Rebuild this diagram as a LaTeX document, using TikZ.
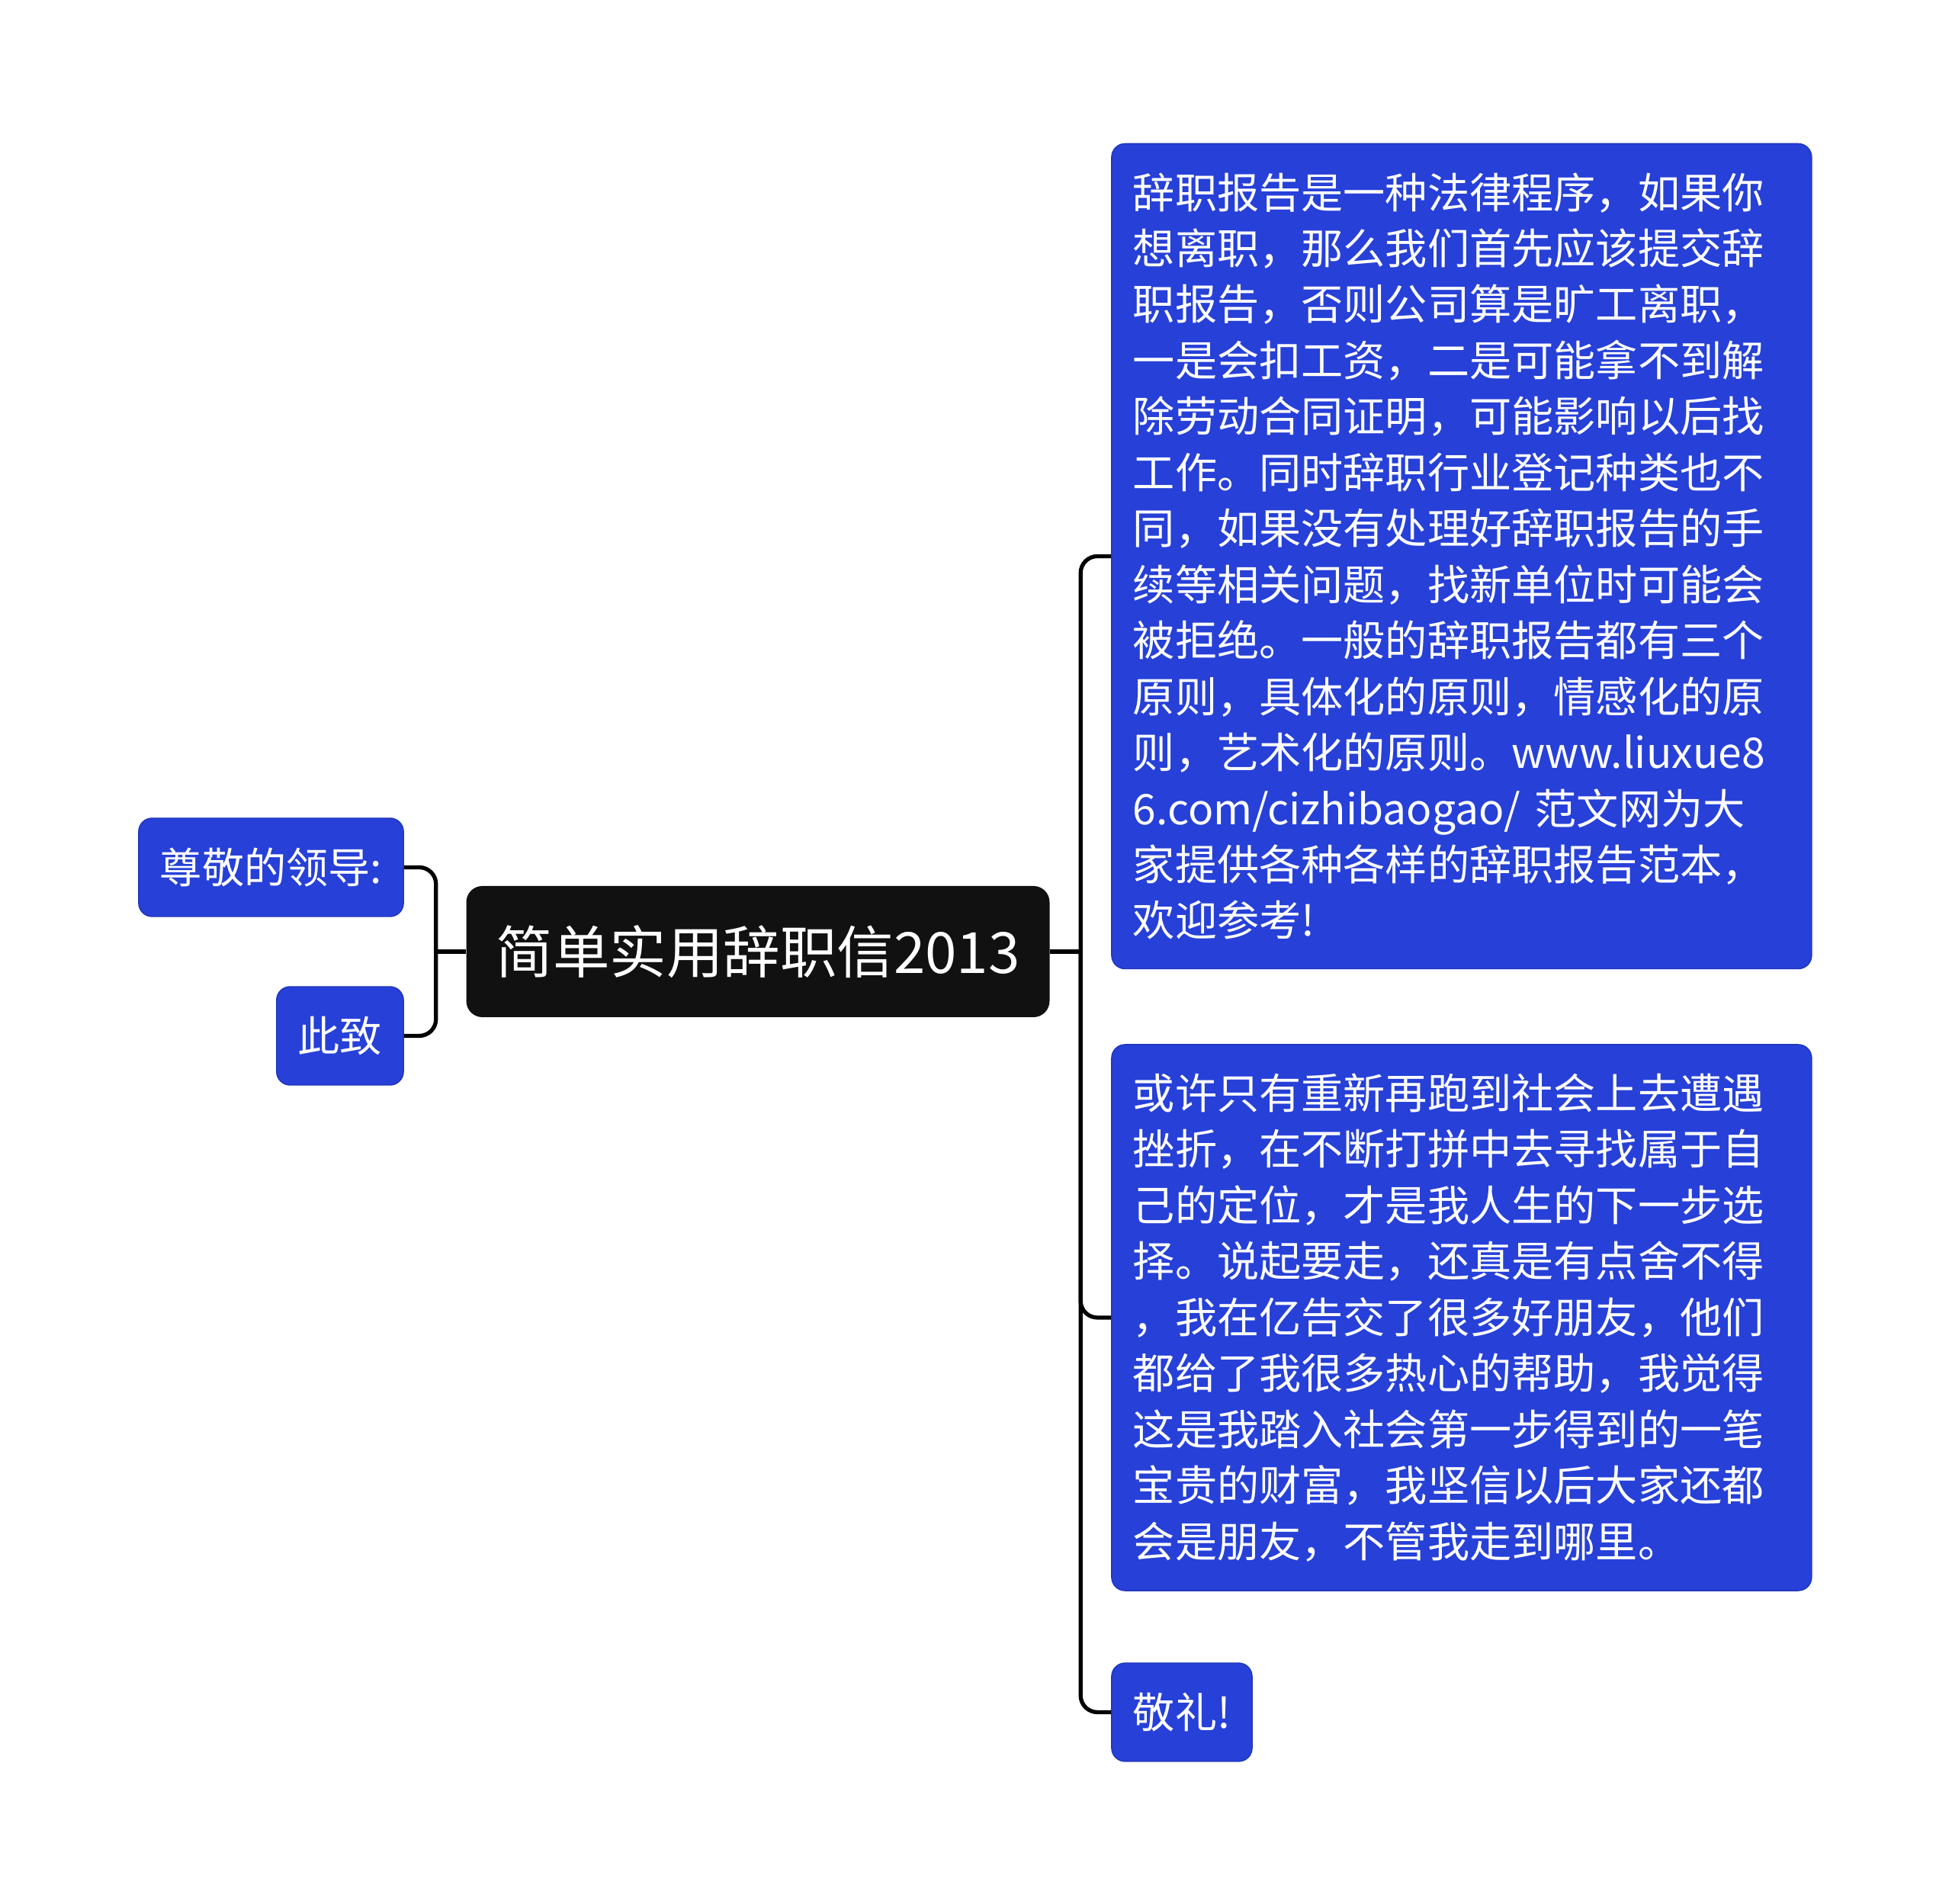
\documentclass[tikz,border=0pt]{standalone}
\usepackage{fontspec}
\setmainfont{Noto Sans CJK SC}
\usepackage{xcolor}
\usepackage{tikz}
\usetikzlibrary{positioning}
\definecolor{nodeblue}{HTML}{2640D8}
\definecolor{rootblack}{HTML}{111111}
\tikzset{
  rootbox/.style={rectangle, rounded corners=6pt, fill=rootblack, text=white,
                  inner xsep=0.39cm, minimum height=1.72cm, font=\fontsize{21.2}{26}\selectfont},
  leafbox/.style={rectangle, rounded corners=5pt, fill=nodeblue, draw=nodeblue!85!black,
                  line width=0.4pt, text=white, inner xsep=0.28cm, minimum height=1.29cm,
                  font=\fontsize{15.7}{20.9}\selectfont},
  parabox/.style={leafbox, text width=8.62cm, align=left, inner ysep=0.38cm},
  link/.style={line width=1.5pt, rounded corners=0.22cm},
}

\begin{document}
\begin{tikzpicture}
  \useasboundingbox (0,0) rectangle (25.6,24.97);
  \node[rootbox] (root) at (9.94,12.49) {简单实用辞职信2013};
  % left side
  \node[leafbox, left=0.81cm of root, yshift=1.105cm]  (greet) {尊敬的领导:};
  \node[leafbox, left=0.81cm of root, yshift=-1.105cm] (close) {此致};
  % right side
  \node[parabox, right=0.8cm of root, yshift=5.185cm] (reason) {辞职报告是一种法律程序，如果你\\想离职，那么我们首先应该提交辞\\职报告，否则公司算是旷工离职，\\一是会扣工资，二是可能拿不到解\\除劳动合同证明，可能影响以后找\\工作。同时辞职行业登记种类也不\\同，如果没有处理好辞职报告的手\\续等相关问题，找新单位时可能会\\被拒绝。一般的辞职报告都有三个\\原则，具体化的原则，情感化的原\\则，艺术化的原则。www.liuxue8\\6.com/cizhibaogao/ 范文网为大\\家提供各种各样的辞职报告范本，\\欢迎参考!};
  \node[parabox, right=0.8cm of root, yshift=-4.8cm] (farewell) {或许只有重新再跑到社会上去遭遇\\挫折，在不断打拼中去寻找属于自\\己的定位，才是我人生的下一步选\\择。说起要走，还真是有点舍不得\\，我在亿告交了很多好朋友，他们\\都给了我很多热心的帮助，我觉得\\这是我踏入社会第一步得到的一笔\\宝贵的财富，我坚信以后大家还都\\会是朋友，不管我走到哪里。};
  \node[leafbox, right=0.8cm of root, yshift=-9.975cm] (salute) {敬礼!};

  \coordinate[right=0.4cm of root] (rj);
  \coordinate[left=0.39cm of root] (lj);

  \draw[link] (root.east) -- (rj);
  \draw[link] (rj) |- (reason.west);
  \draw[link] (rj) |- (farewell.west);
  \draw[link] (rj) |- (salute.west);
  \draw[link] (root.west) -- (lj);
  \draw[link] (lj) |- (greet.east);
  \draw[link] (lj) |- (close.east);
\end{tikzpicture}
\end{document}
